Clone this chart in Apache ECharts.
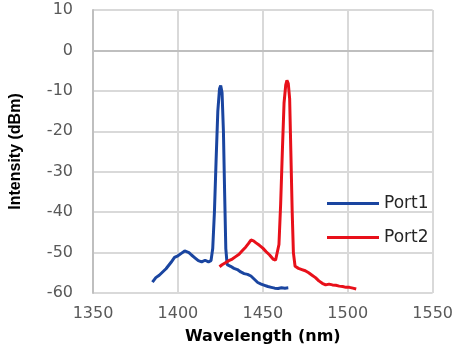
<!DOCTYPE html>
<html>
<head>
<meta charset="utf-8">
<script src="https://cdn.jsdelivr.net/npm/echarts@6/dist/echarts.min.js"></script>
<style>
html,body{margin:0;padding:0;background:#fff;}
#c{width:456px;height:357px;}
</style>
</head>
<body>
<div id="c"></div>
<script>
const xTicks = [1350, 1400, 1450, 1500, 1550];
const yTicks = [-60, -50, -40, -30, -20, -10, 0, 10];
const seriesNames = ['Port1', 'Port2'];

const port1Wavelength = [1385,1387,1389,1391,1393,1394.5,1396,1398,1400,1402,1404,1405,1406.5,1408,1410,1412,1414,1416,1418,1419.5,1420.5,1421.5,1422.5,1423.5,1424.5,1425.2,1426,1426.8,1427.5,1428.2,1429,1431,1433,1435,1437,1439,1441,1443,1445,1447,1449,1451,1453,1455,1457,1459,1461,1463,1465];
const port1Intensity = [-57.3,-56.2,-55.6,-54.8,-54.0,-53.2,-52.4,-51.2,-50.8,-50.2,-49.6,-49.3,-50.0,-50.6,-51.3,-52.0,-52.3,-51.9,-52.3,-52.0,-49.0,-40,-27,-15,-9.5,-8.7,-10.5,-20,-35,-49,-53,-53.4,-53.9,-54.2,-54.8,-55.2,-55.4,-55.8,-56.6,-57.4,-57.8,-58.1,-58.4,-58.6,-58.8,-58.9,-58.7,-58.8,-58.7];

const port2Wavelength = [1424.5,1426,1428,1430,1432,1434,1436,1438,1440,1441.5,1443,1444.5,1446,1448,1450,1452,1454,1456,1457.5,1458.5,1459.5,1460.5,1461.5,1462.5,1463.5,1464.2,1465,1465.8,1466.5,1467.3,1468,1469,1471,1473,1475,1477,1479,1481,1483,1485,1487,1489,1491,1493,1495,1497,1499,1501,1503,1505];
const port2Intensity = [-53.5,-53.0,-52.5,-52.0,-51.6,-51.0,-50.4,-49.5,-48.6,-47.8,-46.9,-47.1,-47.6,-48.2,-48.9,-49.8,-50.6,-51.6,-51.9,-51.5,-48,-38,-25,-13,-8.5,-7.4,-8.2,-12,-25,-40,-50,-53.4,-53.9,-54.2,-54.5,-55.0,-55.6,-56.2,-57.0,-57.6,-58.0,-57.8,-58.0,-58.1,-58.3,-58.4,-58.6,-58.6,-58.8,-59.0];

function pairs(xs, ys){ return xs.map((x,i)=>[x, ys[i]]); }

const chart = echarts.init(document.getElementById('c'), null, {renderer:'canvas'});
const gridColor = '#d9d9d9';
chart.setOption({
  animation: false,
  backgroundColor: '#fff',
  grid: {left: 83, right: 13, top: 10, bottom: 64, containLabel: false},
  legend: {
    data: seriesNames,
    orient: 'vertical',
    left: 322, top: 190,
    itemWidth: 52, itemHeight: 3,
    itemGap: 17,
    icon: 'rect',
    textStyle: {fontFamily: 'DejaVu Sans', fontSize: 17, color: '#262626', padding:[0,0,0,0]}
  },
  xAxis: {
    type: 'value', min: xTicks[0], max: xTicks[xTicks.length-1], interval: 50,
    name: 'Wavelength (nm)', nameLocation: 'middle', nameGap: 36,
    nameTextStyle: {fontFamily: 'DejaVu Sans', fontWeight: 'bold', fontSize: 16, color: '#000'},
    axisLine: {show: true, lineStyle: {color: '#bfbfbf', width: 2}},
    axisTick: {show: false},
    axisLabel: {fontFamily: 'DejaVu Sans', fontSize: 16, color: '#595959', margin: 13, formatter: v => String(v)},
    splitLine: {show: true, lineStyle: {color: gridColor, width: 2}}
  },
  yAxis: {
    type: 'value', min: yTicks[0], max: yTicks[yTicks.length-1], interval: 10,
    name: 'Intensity (dBm)', nameLocation: 'middle', nameGap: 69,
    nameTextStyle: {fontFamily: 'Liberation Sans', fontWeight: 'bold', fontSize: 16, color: '#000'},
    axisLine: {show: true, lineStyle: {color: '#bfbfbf', width: 2}},
    axisTick: {show: false},
    axisLabel: {fontFamily: 'DejaVu Sans', fontSize: 16, color: '#595959', margin: 20, formatter: v => String(v)},
    splitLine: {show: true, lineStyle: {color: gridColor, width: 2}}
  },
  series: [
    {name: seriesNames[0], type: 'line', data: pairs(port1Wavelength, port1Intensity), showSymbol: false, symbol: 'none',
     lineStyle: {color: '#1a45a0', width: 3}, itemStyle: {color: '#1a45a0'}},
    {name: seriesNames[1], type: 'line', data: pairs(port2Wavelength, port2Intensity), showSymbol: false, symbol: 'none',
     lineStyle: {color: '#e8101a', width: 3}, itemStyle: {color: '#e8101a'}}
  ]
});
</script>
</body>
</html>
